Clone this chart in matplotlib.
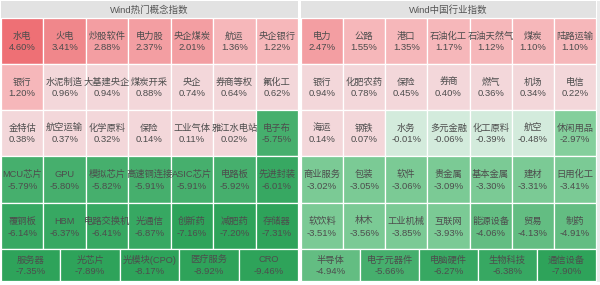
import matplotlib
matplotlib.use("Agg")
import matplotlib.pyplot as plt
from matplotlib.patches import Rectangle

plt.rcParams['font.family'] = ['Liberation Sans', 'Noto Sans CJK SC', 'DejaVu Sans']

# data
left_title = "Wind热门概念指数"
left_names = ["水电", "火电", "炒股软件", "电力股", "央企煤炭", "航运", "央企银行",
              "银行", "水泥制造", "大基建央企", "煤炭开采", "央企", "券商等权", "氟化工",
              "金特估", "航空运输", "化学原料", "保险", "工业气体", "雅江水电站", "电子布",
              "MCU芯片", "GPU", "模拟芯片", "高速铜连接", "ASIC芯片", "电路板", "先进封装",
              "覆铜板", "HBM", "电路交换机", "光通信", "创新药", "减肥药", "存储器",
              "服务器", "光芯片", "光模块(CPO)", "医疗服务", "CRO"]
left_values = [4.60, 3.41, 2.88, 2.37, 2.01, 1.36, 1.22,
               1.20, 0.96, 0.94, 0.88, 0.74, 0.64, 0.62,
               0.38, 0.37, 0.32, 0.14, 0.11, 0.02, -5.75,
               -5.79, -5.80, -5.82, -5.91, -5.91, -5.92, -6.01,
               -6.14, -6.37, -6.41, -6.87, -7.16, -7.20, -7.31,
               -7.35, -7.89, -8.17, -8.92, -9.46]

right_title = "Wind中国行业指数"
right_names = ["电力", "公路", "港口", "石油化工", "石油天然气", "煤炭", "陆路运输",
               "银行", "化肥农药", "保险", "券商", "燃气", "机场", "电信",
               "海运", "钢铁", "水务", "多元金融", "化工原料", "航空", "休闲用品",
               "商业服务", "包装", "软件", "贵金属", "基本金属", "建材", "日用化工",
               "软饮料", "林木", "工业机械", "互联网", "能源设备", "贸易", "制药",
               "半导体", "电子元器件", "电脑硬件", "生物科技", "通信设备"]
right_values = [2.47, 1.55, 1.35, 1.17, 1.12, 1.10, 1.10,
                0.94, 0.78, 0.45, 0.40, 0.36, 0.34, 0.22,
                0.14, 0.07, -0.01, -0.06, -0.39, -0.48, -2.97,
                -3.02, -3.05, -3.06, -3.09, -3.30, -3.31, -3.41,
                -3.51, -3.56, -3.85, -3.93, -4.06, -4.13, -4.91,
                -4.94, -5.66, -6.27, -6.38, -7.90]

# layout (pixel units)
ROW_EDGES = [18, 64, 110, 156, 203, 249, 281]
COLS_PER_ROW = [7, 7, 7, 7, 7, 5]


def cell_color(v):
    if v >= 4:
        return "#ee7075"
    if v >= 3:
        return "#f0878b"
    if v >= 2:
        return "#f39ea2"
    if v >= 1:
        return "#f6b7ba"
    if v >= 0:
        return "#f3d7da"
    if v > -1:
        return "#d3ebdc"
    if v > -3:
        return "#84cf9c"
    if v > -4:
        return "#7bca95"
    if v > -5:
        return "#63bd82"
    if v > -6:
        return "#46af6d"
    if v > -7:
        return "#37a862"
    return "#2ea35a"


def draw_panel(ax, x0, x1, title, names, values):
    ax.add_patch(Rectangle((x0, 1), x1 - x0, 17, facecolor="#e2e2e2", edgecolor="none"))
    ax.text((x0 + x1) / 2, 10, title, ha="center", va="center", fontsize=6.8, color="#555555")
    k = 0
    for r, ncol in enumerate(COLS_PER_ROW):
        y0, y1 = ROW_EDGES[r], ROW_EDGES[r + 1]
        w = (x1 - x0) / ncol
        for c in range(ncol):
            name, val = names[k], values[k]
            k += 1
            cx0 = x0 + c * w
            rect = Rectangle((cx0, y0), w, y1 - y0, facecolor=cell_color(val),
                             edgecolor="white", linewidth=0.9)
            ax.add_patch(rect)
            cx = cx0 + w / 2
            cy = (y0 + y1) / 2 + 0.5
            t1 = ax.text(cx, cy - 5.5, name, ha="center", va="center",
                         fontsize=6.7, color="#4d4d4d")
            t2 = ax.text(cx, cy + 6.5, f"{val:.2f}%", ha="center", va="center",
                         fontsize=6.8, color="#4d4d4d")
            t1.set_clip_path(rect)
            t2.set_clip_path(rect)


fig = plt.figure(figsize=(6, 2.85), dpi=100)
ax = fig.add_axes([0, 0, 1, 1])
ax.set_xlim(0, 600)
ax.set_ylim(285, 0)
ax.axis("off")

draw_panel(ax, 1, 298, left_title, left_names, left_values)
draw_panel(ax, 301, 596, right_title, right_names, right_values)
ax.add_patch(Rectangle((597, 1), 3, 281, facecolor="#ebebeb", edgecolor="none"))

fig.savefig("out.png", dpi=100, facecolor="white")
